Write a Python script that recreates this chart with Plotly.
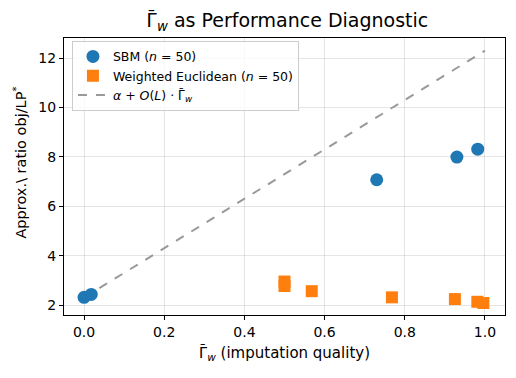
import plotly.graph_objects as go

# SBM points
sbm_gamma = [0.0, 0.018, 0.73, 0.93, 0.982]
sbm_ratio = [2.31, 2.43, 7.07, 7.99, 8.31]

# Weighted Euclidean points
we_gamma = [0.5, 0.5, 0.568, 0.768, 0.925, 0.981, 0.996]
we_ratio = [2.95, 2.77, 2.56, 2.31, 2.24, 2.13, 2.08]

# reference line alpha + O(L) * gamma
line_gamma = [0.0, 1.0]
line_ratio = [2.3, 12.3]

# Gamma with a bar; DejaVu puts the macron on top of the glyph, Lato keeps it clear
GAMMA = "<span style='font-family:Lato'>Γ\u0304</span><sub><i>w</i></sub>"
FONT = "DejaVu Sans"

fig = go.Figure()

fig.add_trace(go.Scatter(
    x=line_gamma, y=line_ratio, mode="lines",
    line=dict(color="#999999", width=2, dash="dash"),
    name="<i>α</i> + <i>O</i>(<i>L</i>) · " + GAMMA,
    legendrank=3,
))
fig.add_trace(go.Scatter(
    x=we_gamma, y=we_ratio, mode="markers",
    marker=dict(symbol="square", size=12, color="#ff7f0e"),
    name="Weighted Euclidean (<i>n</i> = 50)",
    legendrank=2,
))
fig.add_trace(go.Scatter(
    x=sbm_gamma, y=sbm_ratio, mode="markers",
    marker=dict(symbol="circle", size=13, color="#1f77b4"),
    name="SBM (<i>n</i> = 50)",
    legendrank=1,
))

axis_common = dict(
    showline=True, linecolor="black", linewidth=1, mirror=True,
    ticks="outside", ticklen=4, tickcolor="black",
    showgrid=True, gridcolor="rgba(0,0,0,0.1)", gridwidth=1,
    zeroline=False, tickfont=dict(size=14, color="black"),
    automargin=False,
)

fig.update_xaxes(
    range=[-0.05, 1.05], tickvals=[0, 0.2, 0.4, 0.6, 0.8, 1.0],
    ticktext=["0.0", "0.2", "0.4", "0.6", "0.8", "1.0"],
    title=dict(text=GAMMA + " (imputation quality)",
               font=dict(size=15, color="black"), standoff=8),
    **axis_common,
)
fig.update_yaxes(
    range=[1.595, 12.81], tickvals=[2, 4, 6, 8, 10, 12],
    **axis_common,
)

# y label as an annotation so it can sit where the reference has it
fig.add_annotation(
    xref="paper", yref="paper", x=-0.1, y=0.55, textangle=-90,
    text="Approx.\\ ratio obj/LP<sup>*</sup>", showarrow=False,
    xanchor="center", yanchor="middle",
    font=dict(size=14.5, color="black"),
)

# page body adds an 8px margin, so the figure is sized 8px smaller
fig.update_layout(
    width=508, height=370,
    margin=dict(l=56, r=11, t=30, b=63),
    title=dict(text=GAMMA + " as Performance Diagnostic",
               x=0.55, xanchor="center", y=0.985, yanchor="top",
               font=dict(size=19, color="black")),
    font=dict(family=FONT, color="black"),
    plot_bgcolor="white", paper_bgcolor="white",
    showlegend=True,
    legend=dict(
        x=0.018, y=0.99, xanchor="left", yanchor="top",
        bgcolor="rgba(255,255,255,0.8)", bordercolor="#cccccc", borderwidth=1,
        font=dict(size=12.5, color="black"), tracegroupgap=2,
    ),
)

fig.write_html("out.html")
